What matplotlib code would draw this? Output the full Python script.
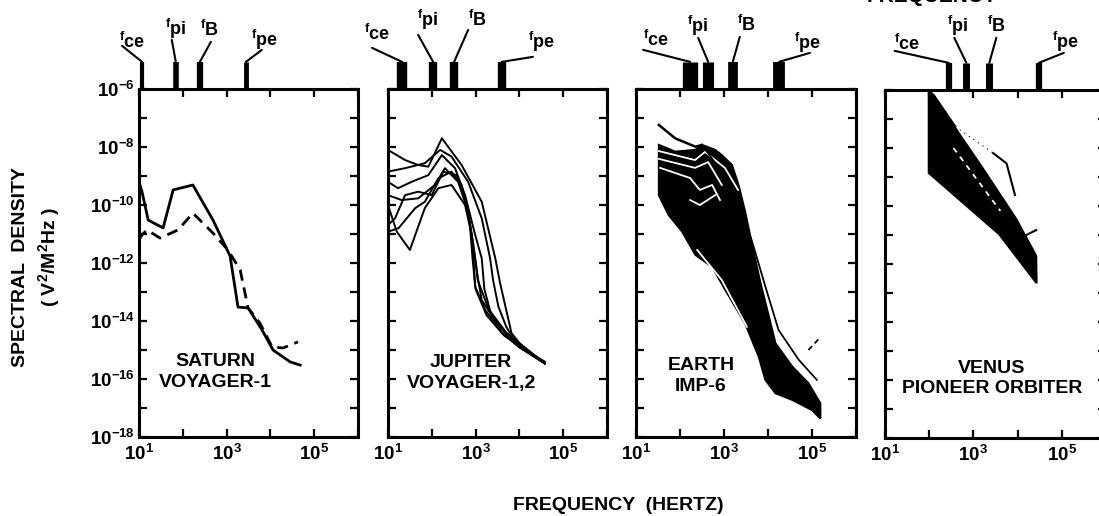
import matplotlib.pyplot as plt
import matplotlib.transforms as mtransforms
import numpy as np

plt.rcParams['font.family'] = ['Liberation Sans', 'DejaVu Sans']
plt.rcParams['font.weight'] = 'bold'
plt.rcParams['mathtext.fontset'] = 'custom'
plt.rcParams['mathtext.rm'] = 'Liberation Sans:bold'
plt.rcParams['mathtext.it'] = 'Liberation Sans:bold'
plt.rcParams['mathtext.bf'] = 'Liberation Sans:bold'

W, H = 1099, 516

# ---- data (log10 frequency in Hz, log10 spectral density in V^2/m^2Hz) ----
saturn_solid_f = [1.0, 1.07, 1.21, 1.55, 1.78, 2.23, 2.69, 3.08, 3.26, 3.49, 3.81, 4.06, 4.45, 4.68]
saturn_solid_s = [-9.2, -9.55, -10.52, -10.79, -9.48, -9.31, -10.52, -11.76, -13.52, -13.55, -14.31, -15.0, -15.41, -15.52]
saturn_dash_f = [1.0, 1.07, 1.18, 1.48, 1.89, 2.23, 2.69, 3.03, 3.31, 3.49, 3.76, 4.04, 4.29, 4.63]
saturn_dash_s = [-11.2, -11.03, -10.86, -11.14, -10.86, -10.28, -10.97, -11.55, -12.24, -13.55, -14.07, -14.90, -14.93, -14.72]

jupiter_f = [
    [1.0, 1.39, 1.69, 1.92, 2.23, 2.68, 3.14, 3.45, 3.56, 3.82, 4.13, 4.58],
    [1.0, 1.39, 1.84, 2.19, 2.45, 2.83, 3.14, 3.33, 3.40, 3.52, 3.70, 3.98, 4.58],
    [1.0, 1.23, 1.54, 1.92, 2.23, 2.53, 2.76, 2.99, 3.14, 3.20, 3.35, 3.60, 3.95, 4.58],
    [1.0, 1.31, 1.69, 2.07, 2.30, 2.60, 2.83, 2.99, 3.05, 3.14, 3.44, 3.75, 4.58],
    [1.0, 1.20, 1.50, 1.84, 2.15, 2.45, 2.76, 2.91, 2.95, 2.99, 3.22, 3.60, 4.00, 4.58],
    [1.0, 1.16, 1.39, 1.69, 2.00, 2.26, 2.57, 2.79, 2.95, 3.05, 3.30, 3.70, 4.58],
    [1.0, 1.24, 1.62, 1.84, 2.15, 2.45, 2.68, 2.87, 2.93, 3.00, 3.25, 3.65, 4.58],
]
jupiter_s = [
    [-8.10, -8.45, -8.62, -8.68, -7.70, -8.62, -9.89, -11.84, -12.70, -14.42, -15.00, -15.40],
    [-8.85, -8.73, -8.56, -8.10, -8.33, -9.20, -10.46, -11.83, -12.60, -13.50, -14.20, -14.89, -15.46],
    [-9.20, -9.42, -9.20, -8.97, -8.28, -8.73, -9.66, -11.03, -11.84, -12.90, -13.75, -14.40, -14.85, -15.46],
    [-9.66, -9.83, -9.77, -9.31, -8.73, -9.20, -10.23, -11.84, -12.50, -13.28, -13.97, -14.54, -15.46],
    [-10.00, -10.92, -11.55, -10.11, -9.42, -9.31, -10.00, -11.03, -11.84, -12.82, -13.62, -14.40, -14.90, -15.46],
    [-10.69, -10.46, -9.66, -9.54, -9.66, -8.85, -8.97, -9.89, -11.38, -12.60, -13.60, -14.40, -15.46],
    [-10.92, -10.80, -10.11, -9.89, -9.08, -8.85, -9.31, -10.69, -11.84, -12.90, -13.80, -14.50, -15.46],
]

# Earth: dense band of many spectra (outline), gaps inside, and outlying spectra
earth_band_f = [1.52, 1.89, 2.35, 2.50, 2.80, 2.95, 3.18, 3.33, 3.48, 3.64, 3.83, 4.02, 4.17, 4.55, 4.92, 5.19, 5.19,
                5.00, 4.55, 4.17, 3.94, 3.79, 3.48, 3.03, 2.73, 2.35, 2.05, 1.74, 1.52]
earth_band_s = [-7.93, -8.16, -8.10, -7.93, -8.10, -8.28, -8.62, -9.31, -10.23, -11.40, -12.70, -13.85, -14.77, -15.57, -16.15, -16.84, -17.36,
                -17.07, -16.72, -16.49, -16.03, -15.23, -14.08, -12.93, -12.13, -11.72, -10.92, -10.34, -9.66]
earth_gaps_f = [
    [1.52, 2.34, 2.57, 3.02, 3.32],
    [1.52, 2.34, 2.64, 2.95],
    [1.55, 2.23, 2.45, 2.73, 2.91],
    [2.23, 2.45, 2.80],
    [2.39, 2.95, 3.52],
]
earth_gaps_s = [
    [-8.14, -8.45, -8.17, -8.72, -9.48],
    [-8.41, -8.72, -8.52, -9.31],
    [-8.72, -9.07, -9.48, -9.31, -9.83],
    [-9.83, -10.00, -9.66],
    [-11.55, -12.59, -14.20],
]
earth_top_f = [1.52, 1.89, 2.35, 2.50]
earth_top_s = [-7.24, -7.70, -7.99, -7.93]
earth_edge_f = [2.50, 3.25, 3.64, 3.94, 4.24, 4.70, 5.11]
earth_edge_s = [-7.93, -9.48, -11.27, -12.81, -14.31, -15.34, -16.03]
earth_frag_f = [4.92, 5.19]
earth_frag_s = [-15.00, -14.56]

# Venus: dense band of spectra (outline), one gap and outlying spectrum
venus_band_f = [1.99, 2.04, 3.22, 3.97, 4.42, 4.43, 3.58, 1.99]
venus_band_s = [-6.08, -6.08, -8.72, -10.45, -11.72, -12.66, -10.97, -8.86]
venus_gap_f = [2.55, 3.61]
venus_gap_s = [-8.00, -10.17]
venus_top_f = [2.10, 2.59]
venus_top_s = [-6.17, -7.26]
venus_dot_f = [2.59, 3.45]
venus_dot_s = [-7.26, -8.18]
venus_top2_f = [3.45, 3.75, 3.86, 3.94]
venus_top2_s = [-8.18, -8.53, -9.16, -9.62]
venus_frag_f = [4.20, 4.42]
venus_frag_s = [-11.00, -10.83]

# characteristic frequencies (log10 Hz): f_ce, f_pi, f_B, f_pe
marker_names = ['ce', 'pi', 'B', 'pe']
marker_f = [
    [1.07, 1.84, 2.39, 3.44],   # Saturn
    [1.32, 2.03, 2.51, 3.60],   # Jupiter
    [2.23, 2.64, 3.20, 4.25],   # Earth
    [2.44, 2.84, 3.36, 4.48],   # Venus
]
panel_names = ['SATURN\nVOYAGER-1', 'JUPITER\nVOYAGER-1,2', 'EARTH\nIMP-6', 'VENUS\nPIONEER ORBITER']

# ---- layout (pixels) ----
panel_px = [(139, 89, 358, 437), (388, 89, 607, 437), (636, 89, 856, 437), (885, 90, 1106, 438)]
name_pos = [(0.347, 0.187), (0.38, 0.184), (0.296, 0.175), (0.484, 0.172)]
bar_w = [[3, 4, 4.5, 3.5], [7.5, 6, 6, 6], [11, 8, 7, 8.5], [4.5, 5, 5, 4.5]]
text_off = [
    [(-10, 20), (0, 33), (10, 32), (19, 22)],
    [(-25, 28), (-5, 42), (23, 42), (40, 20)],
    [(-34, 22), (-10, 36), (14, 37), (29, 19)],
    [(-42, 19), (-9, 37), (7, 37), (27, 21)],
]
lead_off = [
    [(-20, 16), (-4, 22), (11, 20), (16, 12)],
    [(-30, 14), (-15, 27), (14, 32), (31, 5)],
    [(-47, 12), (-10, 24), (7, 25), (31, 9)],
    [(-54, 12), (-12, 25), (7, 25), (25, 10)],
]

fig = plt.figure(figsize=(W / 100, H / 100), dpi=100)
axes = []
for (l, t, r, b) in panel_px:
    ax = fig.add_axes([l / W, 1 - b / H, (r - l) / W, (b - t) / H])
    ax.set_xscale('log')
    ax.set_yscale('log')
    ax.set_xlim(1e1, 1e6)
    ax.set_ylim(1e-18, 1e-6)
    for sp in ax.spines.values():
        sp.set_linewidth(2.2)
    ax.set_xticks([1e1, 1e2, 1e3, 1e4, 1e5, 1e6])
    ax.set_xticklabels([r'$10^{1}$', '', r'$10^{3}$', '', r'$10^{5}$', ''])
    ax.set_yticks([10.0 ** e for e in range(-18, -5)])
    ax.minorticks_off()
    ax.tick_params(which='major', direction='in', length=6, width=1.6,
                   top=True, right=True, labelsize=13.5, pad=5)
    ax.tick_params(axis='y', pad=3)
    axes.append(ax)

axes[0].set_yticklabels([r'$10^{%d}$' % e if e % 2 == 0 else '' for e in range(-18, -5)])
for ax in axes[1:]:
    ax.set_yticklabels([])

def p(vals):
    return 10.0 ** np.array(vals)

# Saturn
ax = axes[0]
ax.plot(p(saturn_solid_f), p(saturn_solid_s), color='k', lw=2.0)
ax.plot(p(saturn_dash_f), p(saturn_dash_s), color='k', lw=2.0, dashes=(4, 2.5))

# Jupiter
ax = axes[1]
for fx, sy in zip(jupiter_f, jupiter_s):
    ax.plot(p(fx), p(sy), color='k', lw=1.4)

# Earth
ax = axes[2]
ax.fill(p(earth_band_f), p(earth_band_s), color='k', lw=1.5, ec='k')
for fx, sy in zip(earth_gaps_f, earth_gaps_s):
    ax.plot(p(fx), p(sy), color='w', lw=1.3)
ax.plot(p(earth_top_f), p(earth_top_s), color='k', lw=1.8)
ax.plot(p(earth_edge_f), p(earth_edge_s), color='k', lw=1.3)
ax.plot(p(earth_frag_f), p(earth_frag_s), color='k', lw=1.3, dashes=(3, 2))

# Venus
ax = axes[3]
ax.fill(p(venus_band_f), p(venus_band_s), color='k', lw=1.5, ec='k')
ax.plot(p(venus_gap_f), p(venus_gap_s), color='w', lw=1.3, dashes=(3, 3))
ax.plot(p(venus_top_f), p(venus_top_s), color='k', lw=1.5)
ax.plot(p(venus_dot_f), p(venus_dot_s), color='k', lw=0.8, dashes=(1, 4))
ax.plot(p(venus_top2_f), p(venus_top2_s), color='k', lw=1.5)
ax.plot(p(venus_frag_f), p(venus_frag_s), color='k', lw=1.5)

# panel names and characteristic-frequency markers
for i, ax in enumerate(axes):
    ax.text(name_pos[i][0], name_pos[i][1], panel_names[i], transform=ax.transAxes,
            ha='center', va='center', fontsize=14, fontweight='bold', linespacing=1.25)
    trans = mtransforms.blended_transform_factory(ax.transData, ax.transAxes)
    for j, name in enumerate(marker_names):
        f = 10.0 ** marker_f[i][j]
        ax.plot([f, f], [1.0, 1.078], transform=trans, color='k', lw=bar_w[i][j],
                solid_capstyle='butt', clip_on=False)
        ax.annotate('', xy=(f, 1.078), xycoords=trans, xytext=lead_off[i][j],
                    textcoords='offset pixels', annotation_clip=False,
                    arrowprops=dict(arrowstyle='-', lw=1.5, color='k', shrinkA=0, shrinkB=0))
        ax.annotate(r'${}^{f}$' + name, xy=(f, 1.078), xycoords=trans, xytext=text_off[i][j],
                    textcoords='offset pixels', ha='center', va='center',
                    fontsize=13, fontweight='bold', annotation_clip=False)

fig.text(21 / W, 1 - 267 / H, 'SPECTRAL  DENSITY', rotation=90, ha='center', va='center',
         fontsize=14, fontweight='bold')
fig.text(49 / W, 1 - 257 / H, r'( V$^{2}$/M$^{2}$Hz )', rotation=90, ha='center', va='center',
         fontsize=14, fontweight='bold')
fig.text(618 / W, 1 - 505 / H, 'FREQUENCY  (HERTZ)', ha='center', va='center',
         fontsize=14, fontweight='bold')
fig.text(997 / W, 1 + 4 / H, 'FREQUENCY', ha='right', va='center', fontsize=15, fontweight='bold')

fig.savefig('out.png', dpi=100)
